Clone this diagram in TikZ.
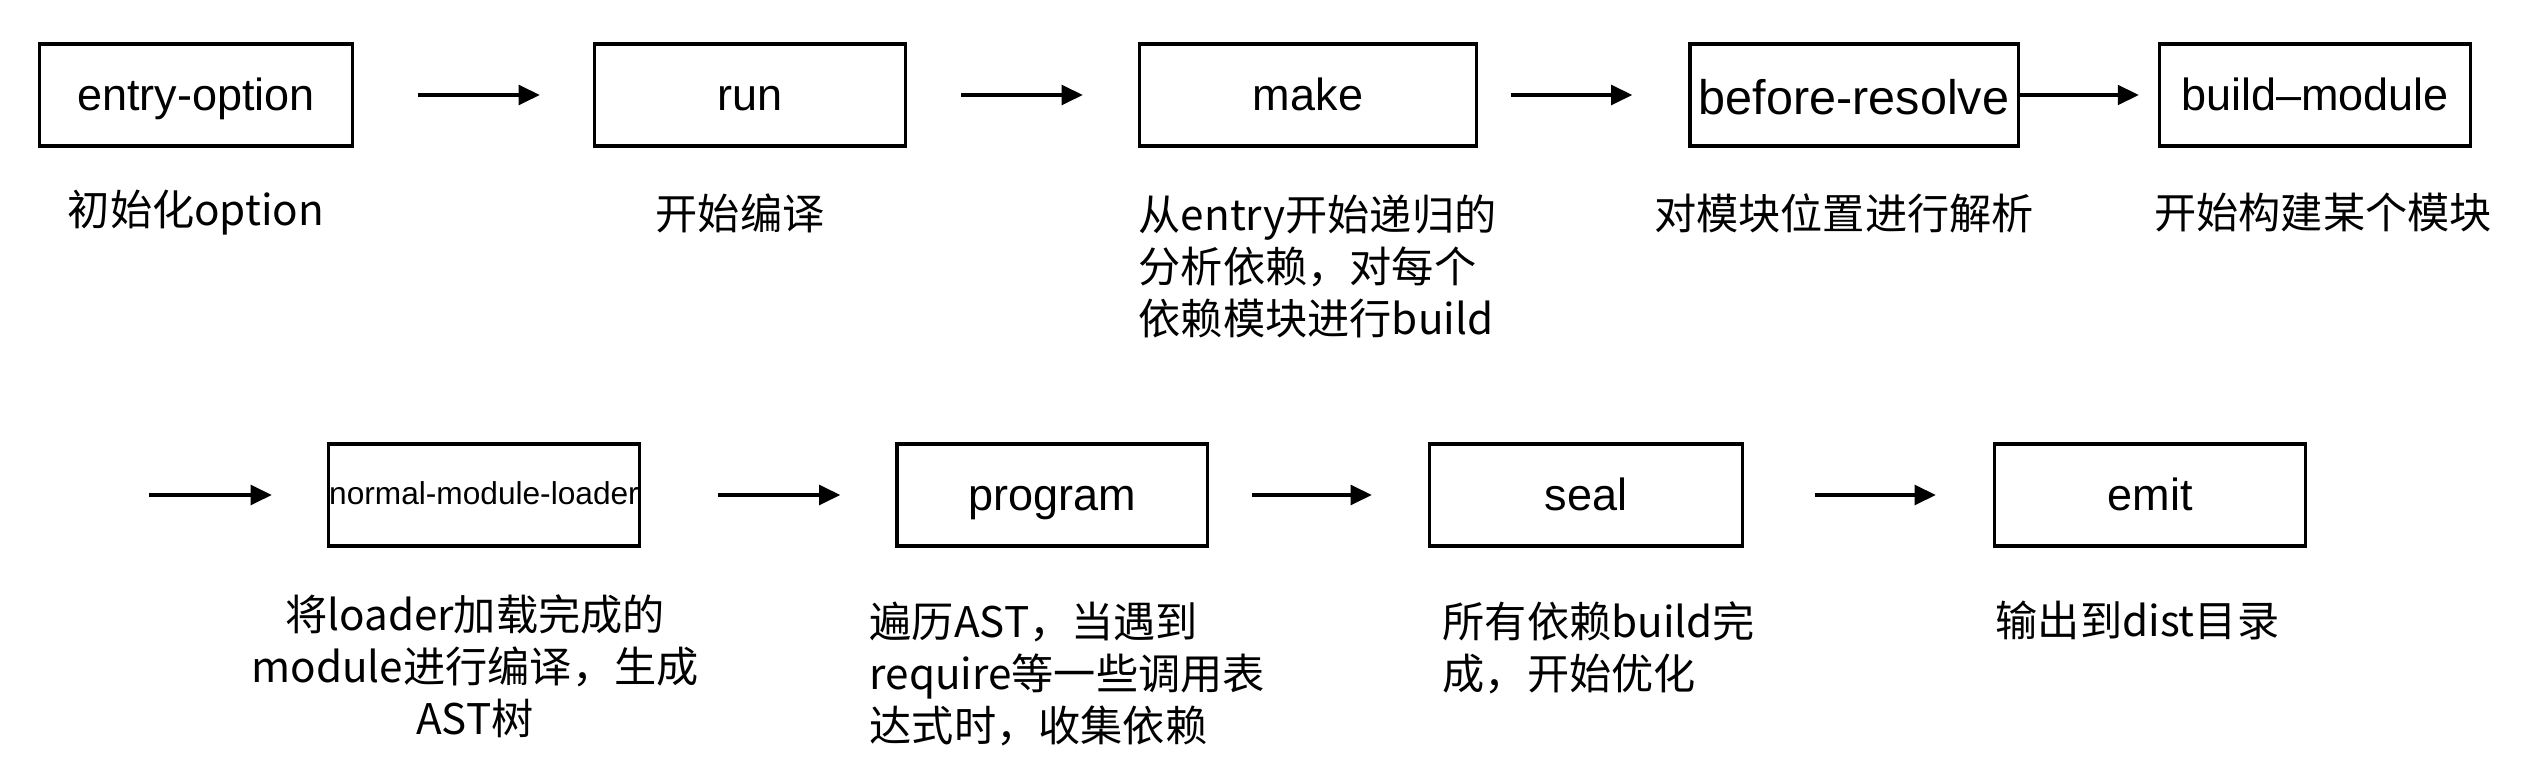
\documentclass[tikz,border=0pt]{standalone}
\usepackage{fontspec}
\setmainfont{Liberation Sans}
\newfontfamily\cjk{Noto Sans CJK SC}
\usetikzlibrary{arrows.meta}
\begin{document}
\begin{tikzpicture}[>={Triangle[length=6pt,width=5.6pt]}, x=0.01cm, y=-0.01cm,
  box/.style={draw, line width=0.9pt, minimum height=1.02cm, inner sep=0pt, text height=9pt, text depth=0pt, font=\fontsize{12.8}{15}\selectfont},
  note/.style={inner sep=0pt, font=\cjk\fontsize{12}{14.8}\selectfont},
  flow/.style={->, line width=0.9pt}]
\useasboundingbox (0,0) rectangle (2546,758);

\node[box, minimum width=3.12cm] (entry) at (196,95) {entry-option};
\node[box, minimum width=3.11cm] (run) at (750,95) {run};
\node[box, minimum width=3.37cm] (make) at (1308,95) {make};
\node[box, minimum width=3.28cm, text height=11pt, font=\fontsize{13.8}{16}\selectfont] (resolve) at (1854,95) {before-resolve};
\node[box, minimum width=3.11cm] (build) at (2315,95) {build–module};

\draw[flow, shorten <=0.64cm, shorten >=0.53cm] (entry) -- (run);
\draw[flow, shorten <=0.54cm, shorten >=0.55cm] (run) -- (make);
\draw[flow, shorten <=0.33cm, shorten >=0.56cm] (make) -- (resolve);
\draw[flow, shorten >=0.19cm] (resolve) -- (build);

\node[note] (entrytxt) at (196,213) {初始化option};
\node[note] (runtxt) at (740,213) {开始编译};
\node[note, align=left, anchor=north west] (maketxt) at (1138,194) {从entry开始递归的\\分析依赖，对每个\\依赖模块进行build};
\node[note] (resolvetxt) at (1844,213) {对模块位置进行解析};
\node[note] (buildtxt) at (2323,213) {开始构建某个模块};

\coordinate (start) at (149,495);
\node[box, minimum width=3.11cm, text height=5.6pt, font=\fontsize{9}{11}\selectfont] (loader) at (484,495) {normal-module-loader};
\node[box, minimum width=3.10cm] (program) at (1052,495) {program};
\node[box, minimum width=3.13cm] (seal) at (1586,495) {seal};
\node[box, minimum width=3.11cm] (emit) at (2150,495) {emit};

\draw[flow, shorten >=0.55cm] (start) -- (loader);
\draw[flow, shorten <=0.77cm, shorten >=0.55cm] (loader) -- (program);
\draw[flow, shorten <=0.43cm, shorten >=0.56cm] (program) -- (seal);
\draw[flow, shorten <=0.71cm, shorten >=0.57cm] (seal) -- (emit);

\node[note, align=center, anchor=north] (loadertxt) at (475,594) {将loader加载完成的\\module进行编译，生成\\AST树};
\node[note, align=left, anchor=north west] (programtxt) at (869,601) {遍历AST，当遇到\\require等一些调用表\\达式时，收集依赖};
\node[note, align=left, anchor=north west] (sealtxt) at (1442,601) {所有依赖build完\\成，开始优化};
\node[note, anchor=west] (emittxt) at (1995,620) {输出到dist目录};

\end{tikzpicture}
\end{document}
